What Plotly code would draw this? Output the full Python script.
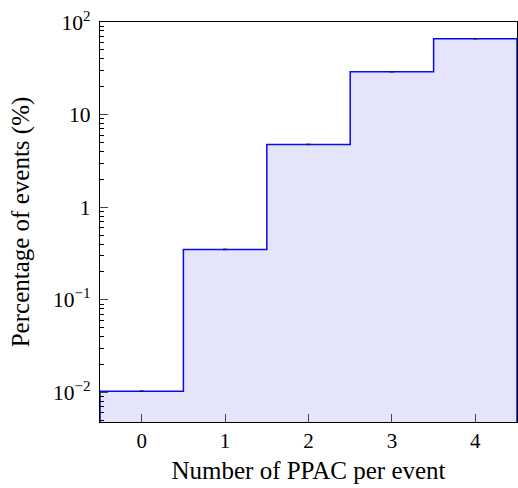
import plotly.graph_objects as go

n_ppac = [0, 1, 2, 3, 4]
percent = [0.0103, 0.35, 4.76, 29.0, 66.0]

ymin, ymax = 0.0048, 100
font_family = "Liberation Serif"

# step outline built from bin edges (bin width 1)
edges = [n - 0.5 for n in n_ppac] + [n_ppac[-1] + 0.5]
step_x = [edges[0]] + edges + [edges[-1]]
step_y = [ymin] + percent + [percent[-1], ymin]

major = [0.01, 0.1, 1, 10, 100]
major_txt = ["10<sup>\u22122</sup>", "10<sup>\u22121</sup>", "1", "10", "10<sup>2</sup>"]
minor = [m * d for d in [0.001, 0.01, 0.1, 1, 10] for m in range(2, 10)]

fig = go.Figure()
fig.add_trace(go.Bar(x=n_ppac, y=percent, width=1,
                     marker=dict(color="rgb(228,228,250)", line_width=0)))
fig.add_trace(go.Scatter(x=step_x, y=step_y, mode="lines", line_shape="hv",
                         line=dict(color="rgb(10,10,240)", width=1.5)))
fig.add_trace(go.Scatter(x=n_ppac, y=percent, mode="markers",
                         marker=dict(symbol="line-ew", size=3, color="rgb(20,20,90)",
                                     line=dict(width=1.5, color="rgb(20,20,90)"))))

fig.update_layout(
    width=518, height=488, showlegend=False,
    plot_bgcolor="white", paper_bgcolor="white",
    margin=dict(l=100, r=1, t=22, b=66),
    font=dict(family=font_family, size=20.5, color="black"),
    bargap=0,
)
fig.update_xaxes(range=[-0.5, 4.5], tickvals=n_ppac, ticks="inside", ticklen=8,
                 tickfont=dict(size=21),
                 showline=True, linecolor="black", linewidth=1.2, mirror=True,
                 showgrid=False, zeroline=False, layer="above traces",
                 title=dict(text="Number of PPAC per event", standoff=9))
fig.update_yaxes(type="log", range=[-2.32, 2], tickmode="array",
                 tickvals=major, ticktext=major_txt, ticks="inside", ticklen=8,
                 tickfont=dict(size=21.5), ticklabelstandoff=4,
                 minor=dict(tickmode="array", tickvals=minor, ticks="inside",
                            ticklen=4, tickcolor="black", showgrid=False),
                 showline=True, linecolor="black", linewidth=1.2, mirror=True,
                 showgrid=False, zeroline=False, layer="above traces",
                 title=dict(text="Percentage of events (%)", standoff=16))

fig.write_html("out.html", config={"displayModeBar": False},
               post_script="document.body.style.margin='0';")
